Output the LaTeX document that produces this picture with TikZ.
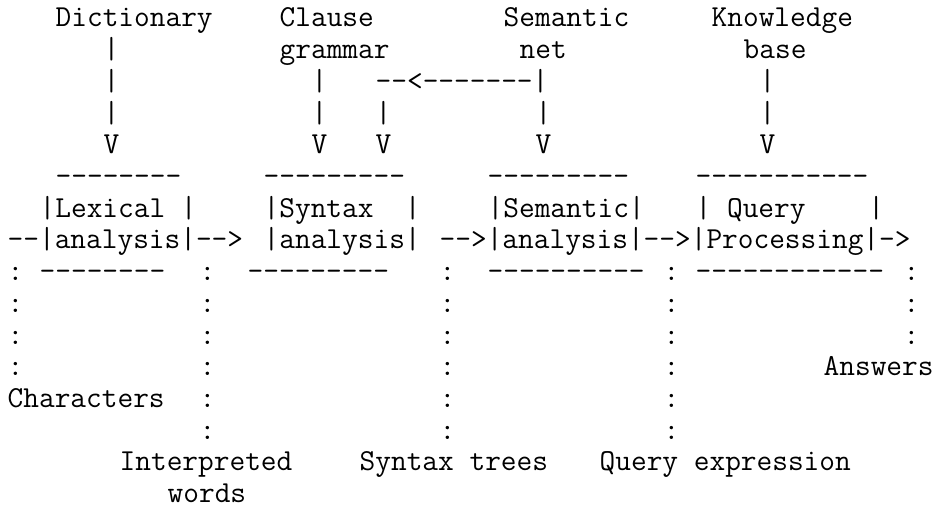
\documentclass[tikz,border=0pt]{standalone}
\usepackage{fontspec}
\tikzset{asc/.style={anchor=base west, inner sep=0pt, outer sep=0pt,
  font=\ttfamily\fontsize{30.476pt}{32pt}\selectfont, text=black}}
% #1 name, #2 column, #3 row, #4 text
\newcommand\ch[4]{\node[asc] (#1) at ({7.7+#2*16},{27+(#3-1)*31.7}) {#4};}
\begin{document}
\begin{tikzpicture}[x=1pt,y=-1pt]
\fill[white] (0,0) rectangle (934,508);
\useasboundingbox (0,0) rectangle (934,508);
% row 1-2: sources
\ch{dict}{3}{1}{Dictionary}
\ch{clause}{17}{1}{Clause}
\ch{semnet}{31}{1}{Semantic}
\ch{know}{44}{1}{Knowledge}
\ch{p2a}{6}{2}{|}
\ch{gram}{17}{2}{grammar}
\ch{net}{32}{2}{net}
\ch{base}{46}{2}{base}
% row 3-5: feeds
\ch{p3a}{6}{3}{|}
\ch{p3b}{19}{3}{|}
\ch{fb}{23}{3}{--<-------|}
\ch{p3c}{47}{3}{|}
\foreach \c in {6,19,23,33,47} {\ch{p4-\c}{\c}{4}{|}}
\foreach \c in {6,19,23,33,47} {\ch{v5-\c}{\c}{5}{V}}
% row 6-9: boxes
\ch{lexT}{3}{6}{--------}
\ch{synT}{16}{6}{---------}
\ch{semT}{30}{6}{---------}
\ch{qryT}{43}{6}{-----------}
\ch{lex1}{2}{7}{|Lexical |}
\ch{syn1}{16}{7}{|Syntax\ \ |}
\ch{sem1}{30}{7}{|Semantic|}
\ch{qry1}{43}{7}{|\ Query\ \ \ \ |}
\ch{lex2}{0}{8}{--|analysis|-->}
\ch{syn2}{16}{8}{|analysis|}
\ch{sem2}{27}{8}{-->|analysis|-->|Processing|->}
\ch{lexB}{2}{9}{--------}
\ch{synB}{15}{9}{---------}
\ch{semB}{30}{9}{----------}
\ch{qryB}{43}{9}{------------}
\foreach \c in {0,12,27,41,56} {\ch{c9-\c}{\c}{9}{:}}
% rows 10-14: dotted outputs
\foreach \r in {10,11} {\foreach \c in {0,12,27,41,56} {\ch{c\r-\c}{\c}{\r}{:}}}
\foreach \c in {0,12,27,41} {\ch{c12-\c}{\c}{12}{:}}
\ch{answers}{51}{12}{Answers}
\ch{chars}{0}{13}{Characters}
\foreach \r in {13,14} {\foreach \c in {12,27,41} {\ch{c\r-\c}{\c}{\r}{:}}}
% rows 15-16: output labels
\ch{interp}{7}{15}{Interpreted}
\ch{trees}{22}{15}{Syntax trees}
\ch{qexpr}{37}{15}{Query expression}
\ch{words}{10}{16}{words}
\end{tikzpicture}
\end{document}
